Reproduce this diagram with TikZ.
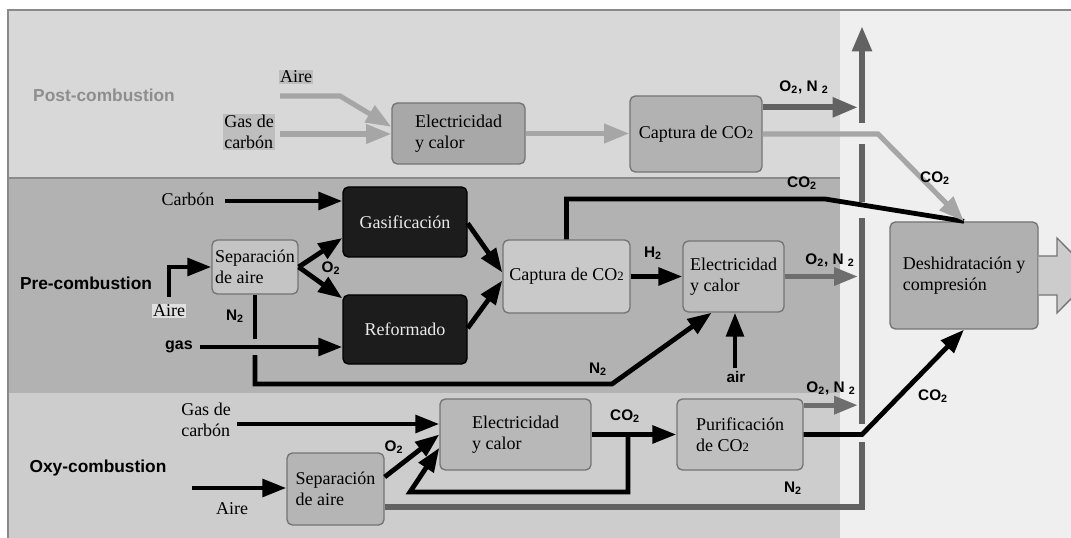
\documentclass[tikz,border=0pt]{standalone}
\usepackage{fontspec}
\setmainfont{Liberation Serif}
\newfontfamily\lsans{Liberation Sans}
\usetikzlibrary{arrows.meta}
\definecolor{postbg}{HTML}{D8D8D8}
\definecolor{prebg}{HTML}{B2B2B2}
\definecolor{oxybg}{HTML}{CDCDCD}
\definecolor{rightbg}{HTML}{EFEFEF}
\definecolor{framec}{HTML}{8A8A8A}
\definecolor{boxline}{HTML}{747474}
\definecolor{postln}{HTML}{A6A6A6}
\definecolor{darkln}{HTML}{626262}
\definecolor{midln}{HTML}{6E6E6E}
\definecolor{blackbox}{HTML}{1C1C1C}
\definecolor{posttxt}{HTML}{8E8E8E}
\newcommand\serfont{\fontsize{13.5}{16}\selectfont}
\newcommand\cotwo{CO{\fontsize{9.5}{10}\selectfont 2}}
\begin{document}
\begin{tikzpicture}[x=0.75pt,y=-0.75pt,
  box/.style={rounded corners=4pt, draw=boxline, line width=1pt, inner sep=0pt, align=left, font=\serfont},
  wh/.style 2 args={minimum width=#1*0.75pt, minimum height=#2*0.75pt},
  blackb/.style={box, draw=black, fill=blackbox, text=white!92!black},
  stxt/.style={inner sep=1pt, align=left, font=\serfont},
  lab/.style={inner sep=0pt, font=\lsans\bfseries\fontsize{11.5}{13}\selectfont},
  big/.style={inner sep=0pt, font=\lsans\bfseries\fontsize{13}{15}\selectfont},
  blk/.style={draw=black, line width=3.6pt},
  blka/.style={blk, -{Triangle[length=18pt,width=13pt]}},
  post/.style={draw=postln, line width=3.8pt},
  posta/.style={post, -{Triangle[length=19pt,width=14pt]}},
  dg/.style={draw=darkln, line width=4.6pt},
  dga/.style={dg, -{Triangle[length=19pt,width=14pt]}},
  mg/.style={draw=midln, line width=4pt},
  mga/.style={mg, -{Triangle[length=18pt,width=13pt]}}
]
\useasboundingbox (0,0) rectangle (1071,538);
\clip (0,0) rectangle (1071,538);
% backgrounds
\fill[white] (0,0) rectangle (1071,538);
\fill[postbg] (8,10) rectangle (840,178);
\fill[prebg] (8,178) rectangle (840,393);
\fill[oxybg] (8,393) rectangle (840,538);
\fill[rightbg] (840,10) rectangle (1071,538);
\draw[framec, line width=0.8pt] (8,178) -- (840,178);
\draw[framec, line width=1.5pt] (8,538) -- (8,10) -- (1071,10);

% ---------- Post-combustion ----------
\node[big, text=posttxt] (lPost) at (104,95) {Post-combustion};
\node[stxt, fill=postbg!88!black] (tAireP) at (296,77) {Aire};
\node[stxt, fill=postbg!88!black] (tGasP) at (249,132) {Gas de\\carbón};
\node[box, wh={133}{61}, fill=black!34] (elP) at (458.5,133.5) {Electricidad\\y calor};
\node[box, wh={132}{76}, fill=black!30] (capP) at (696,134) {Captura de \cotwo};

% vertical collector bar
\coordinate (barTop) at (862,26);
\coordinate (barBot) at (862,507);

\coordinate (aP) at (280,96);
\coordinate (aPk) at (340,96);
\draw[posta] (aP) -- (aPk) -- ([yshift=5pt]elP.west);
\coordinate (gP) at (280,134);
\draw[posta] (gP) -- (gP -| elP.west);
\draw[posta] (elP.east) -- (elP.east -| capP.west);
\draw[dga, shorten >=3pt] ([yshift=20pt]capP.east) -- ([yshift=20pt]capP.east -| barTop);
\node[lab] (lON1) at (804,87) {O\textsubscript{2}, N \textsubscript{2}};

% ---------- Pre-combustion ----------
\node[big] (lPre) at (86,283) {Pre-combustion};
\node[stxt] (tCarb) at (188,199) {Carbón};
\node[blackb, wh={124}{70}] (gasi) at (405,222) {Gasificación};
\node[blackb, wh={124}{69}] (refo) at (405,329.5) {Reformado};
\node[box, wh={86}{54}, fill=black!23] (sepA) at (255,267) {Separación\\de aire};
\node[stxt, fill=black!12] (tAirePre) at (169,311) {Aire};
\node[big, font=\lsans\bfseries\fontsize{12}{14}\selectfont] (tGas) at (179,347) {gas};
\node[box, wh={127}{73}, fill=black!21] (capPre) at (566.5,276.5) {Captura de \cotwo};
\node[box, wh={101}{71}, fill=black!26] (elPre) at (733.5,276.5) {Electricidad\\y calor};
\node[lab] (tAir) at (736,377) {air};
\node[box, wh={148}{107}, fill=black!31] (deh) at (964,275.5) {Deshidratación y\\compresión};
\draw[draw=boxline, fill=black!20, line width=1pt]
  (deh.east |- 0,256) -- (1057,256) -- (1057,238) -- (1094,275.5) -- (1057,313) -- (1057,295) -- (deh.east |- 0,295);

\coordinate (cS) at (225,201);
\draw[blka] (cS) -- (cS -| gasi.west);
\coordinate (aS) at (169,297);
\draw[blka] (aS) |- (sepA.west);
\draw[blka] (sepA.east) -- ([yshift=-12pt]gasi.west);
\draw[blka] (sepA.east) -- ([yshift=-3pt]refo.north west);
\node[lab] (lO2a) at (331,268) {O\textsubscript{2}};
\coordinate (gS) at (200,347);
\draw[blka] (gS) -- (gS -| refo.west);
\coordinate (n1) at (255,339);
\coordinate (n2) at (255,355);
\coordinate (n3) at (612,384);
\draw[blk] (sepA.south) -- (n1);
\draw[blka] (n2) |- (n3) -- ([xshift=22pt]elPre.south west);
\node[lab] (lN2a) at (235,316) {N\textsubscript{2}};
\node[lab] (lN2b) at (598,369) {N\textsubscript{2}};
\draw[blka] ([yshift=-1pt]gasi.east) -- ([yshift=3pt]capPre.west);
\draw[blka] ([yshift=1pt]refo.east) -- ([yshift=-3pt]capPre.west);
\coordinate (co) at (825,199);
\draw[blk] (capPre.north) |- (co) -- (deh.north);
\node[lab] (lCO2a) at (802,183) {CO\textsubscript{2}};
\draw[blka] (capPre.east) -- (elPre.west);
\node[lab] (lH2) at (653,253) {H\textsubscript{2}};
\draw[mga, shorten >=3pt] (elPre.east) -- (elPre.east -| barTop);
\node[lab] (lON2) at (830,260) {O\textsubscript{2}, N \textsubscript{2}};
\coordinate (airS) at (735,368);
\draw[blka] (airS) -- (airS |- elPre.south);

% ---------- Oxy-combustion ----------
\node[big] (lOxy) at (98,468) {Oxy-combustion};
\node[stxt] (tGasO) at (206,420) {Gas de\\carbón};
\node[box, wh={151}{71}, fill=black!28] (elO) at (515.5,434.5) {Electricidad\\y calor};
\node[box, wh={97}{72}, fill=black!29] (sepO) at (335.5,489) {Separación\\de aire};
\node[stxt] (tAireO) at (232,509) {Aire};
\node[box, wh={126}{71}, fill=black!25] (purif) at (740,434.5) {Purificación\\de \cotwo};

\coordinate (gO) at (237,424);
\draw[blka] (gO) -- (gO -| elO.west);
\coordinate (aO) at (192,488);
\draw[blka] (aO) -- (aO -| sepO.west);
\draw[blka] ([yshift=9pt]sepO.east) -- (elO.west);
\node[lab] (lO2b) at (394,447) {O\textsubscript{2}};
\draw[blka] (elO.east) -- (purif.west);
\node[lab] (lCO2b) at (625,416) {CO\textsubscript{2}};
\coordinate (rc) at (628,492);
\coordinate (rl) at (410,492);
\draw[blka] (rc |- elO.east) -- (rc) -- (rl) -- ([yshift=-10pt]elO.west);
\draw[mga, shorten >=3pt] ([yshift=22pt]purif.east) -- ([yshift=22pt]purif.east -| barTop);
\node[lab] (lON3) at (831,388) {O\textsubscript{2}, N \textsubscript{2}};
\node[lab] (lN2c) at (793,488) {N\textsubscript{2}};

% collector bar (with gaps at crossings)
\draw[dg] ([yshift=-13.5pt]sepO.east) -| (862,442);
\draw[dg] (862,424) -- (862,218);
\draw[dg] (862,202) -- (862,144);
\draw[dga] (862,123) -- (barTop);

% CO2 to Deshidratacion
\coordinate (cP) at (878,134);
\draw[posta] (capP.east) -- (cP) -- (deh.north);
\node[lab] (lCO2c) at (935,178) {CO\textsubscript{2}};
\coordinate (pc) at (862,434.5);
\draw[blka] (purif.east) -- (pc) -- (deh.south);
\node[lab] (lCO2d) at (933,396) {CO\textsubscript{2}};
\end{tikzpicture}
\end{document}
